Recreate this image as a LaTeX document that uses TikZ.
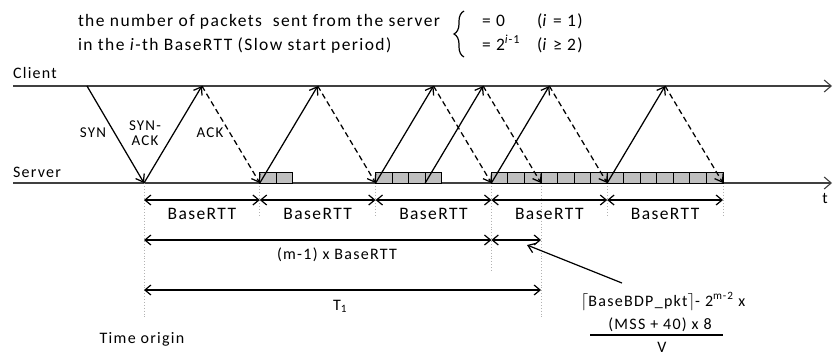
\documentclass[tikz,border=0pt]{standalone}
\usepackage{fontspec}
\setmainfont{Carlito}[LetterSpace=8]
\usetikzlibrary{arrows.meta,decorations.pathreplacing}
\begin{document}
\begin{tikzpicture}[x=1pt,y=-1pt,
  every node/.style={inner sep=0pt, outer sep=0pt, font=\fontsize{16}{19}\selectfont},
  small/.style={font=\fontsize{15}{18}\selectfont},
  head/.style={font=\fontsize{17.5}{21}\selectfont},
  rttlabel/.style={font=\fontsize{17.5}{21}\selectfont},
  timeline/.style={draw=black!75, line width=1.9pt,
    -{Straight Barb[length=7pt,width=12pt,line width=1.1pt]}},
  msg/.style={line width=1.25pt, -{Straight Barb[length=7pt,width=10pt]}},
  ackmsg/.style={msg, dash pattern=on 5.5pt off 3.5pt},
  pkt/.style={draw, fill=black!25, line width=0.9pt},
  guide/.style={draw=black!30, dotted, line width=0.9pt},
  span/.style={line width=1.2pt,
    {Straight Barb[length=6pt,width=10pt]}-{Straight Barb[length=6pt,width=10pt]}},
  pointer/.style={line width=1.2pt, -{Straight Barb[length=7pt,width=10pt]}},
]
\useasboundingbox (0,0) rectangle (833,360);

% server-side instants, one BaseRTT apart
\foreach \n/\x in {0/144,1/259.8,2/375.6,3/491.4,4/607.2,5/723} {
  \coordinate (S\n) at (\x,183);
  \coordinate (R\n) at (\x,200);
}
% client-side turning points
\coordinate (C0) at (87,86);
\coordinate (C1) at (201.9,86);
\coordinate (C2) at (317.7,86);
\coordinate (C3) at (433.5,86);
\coordinate (C4) at (483.1,86);
\coordinate (C5) at (549.3,86);
\coordinate (C6) at (665.1,86);
\coordinate (E0) at (425.2,183);
\coordinate (E1) at (541,183);

% time lines
\coordinate (cl0) at (13,86);  \coordinate (cl1) at (832,86);
\coordinate (sv0) at (13,183); \coordinate (sv1) at (832,183);
\draw[timeline] (cl0) -- (cl1);
\draw[timeline] (sv0) -- (sv1);

% dotted guides below the server line
\coordinate (g0) at (144,318);
\coordinate (g1) at (259.8,217);
\coordinate (g2) at (375.6,217);
\coordinate (g3) at (491.4,272);
\coordinate (g4) at (607.2,217);
\coordinate (g5) at (723,217);
\coordinate (gE) at (541,318);
\foreach \n in {0,...,5} \draw[guide] (S\n) -- (g\n);
\draw[guide] (E1) -- (gE);

% packets queued at the server
\foreach \i in {0,1} \draw[pkt] ({259.8+\i*16.54},172) rectangle +(16.54,11);
\foreach \i in {0,...,3} \draw[pkt] ({375.6+\i*16.54},172) rectangle +(16.54,11);
\foreach \i in {0,...,13} \draw[pkt] ({491.4+\i*16.54},172) rectangle +(16.54,11);

% handshake and data exchange
\draw[msg] (C0) -- (S0);
\draw[msg] (S0) -- (C1);
\draw[ackmsg] (C1) -- (S1);
\draw[msg] (S1) -- (C2);
\draw[ackmsg] (C2) -- (S2);
\draw[msg] (S2) -- (C3);
\draw[ackmsg] (C3) -- (S3);
\draw[msg] (E0) -- (C4);
\draw[ackmsg] (C4) -- (E1);
\draw[msg] (S3) -- (C5);
\draw[ackmsg] (C5) -- (S4);
\draw[msg] (S4) -- (C6);
\draw[ackmsg] (C6) -- (S5);

% BaseRTT spans
\foreach \a/\b in {0/1,1/2,2/3,3/4,4/5} \draw[span] (R\a) -- (R\b);
\foreach \n/\x in {1/201.9,2/317.7,3/433.5,4/549.3,5/665.1}
  \node[rttlabel, anchor=base] (rtt\n) at (\x,219) {BaseRTT};

% longer spans
\coordinate (m0) at (144,240);
\coordinate (m1) at (491.4,240);
\coordinate (m2) at (541,240);
\coordinate (t0) at (144,290);
\coordinate (t1) at (541,290);
\draw[span] (m0) -- (m1);
\draw[span] (m1) -- (m2);
\draw[span] (t0) -- (t1);
\node[anchor=base] (mlabel) at (337,259) {(m-1) x BaseRTT};
\node[anchor=base] (tlabel) at (340,310) {T\textsubscript{1}};
\node[anchor=base] (origin) at (142,343) {Time origin};

% remaining-time formula
\node[anchor=base] (f1) at (663,306)
  {$\lceil$BaseBDP\_pkt$\rceil$- 2\textsuperscript{m-2} x};
\node[anchor=base] (fnum) at (660,329) {(MSS + 40) x 8};
\coordinate (bar0) at (590,335);
\coordinate (bar1) at (723,335);
\draw[line width=1.2pt] (bar0) -- (bar1);
\node[anchor=base] (fden) at (662,352) {V};
\coordinate (ptr0) at (622,283);
\coordinate (ptr1) at (527,245);
\draw[pointer] (ptr0) -- (ptr1);

% line names
\node[anchor=base west] (client) at (13,78) {Client};
\node[anchor=base west] (server) at (13,177) {Server};
\node[anchor=base] (taxis) at (825,203) {t};

% message labels
\node[small, anchor=base] (synl) at (93,137) {SYN};
\node[small, anchor=base] (synack1) at (145,130) {SYN-};
\node[small, anchor=base] (synack2) at (145,145) {ACK};
\node[small, anchor=base] (ackl) at (210,137) {ACK};

% header: packets per BaseRTT in slow start
\node[head, anchor=base west] (h1) at (78,26) {the number of packets\ \ sent from the server};
\node[head, anchor=base west] (h2) at (78,50) {in the \textit{i}-th BaseRTT (Slow start period)};
\coordinate (br0) at (464,57);
\coordinate (br1) at (464,11);
\draw[line width=1.2pt, decorate, decoration={brace, amplitude=10pt}] (br0) -- (br1);
\node[head, anchor=base west] (c1a) at (482,26) {= 0};
\node[head, anchor=base west] (c1b) at (537,26) {(\textit{i} = 1)};
\node[head, anchor=base west] (c2a) at (482,50) {= 2\textsuperscript{\textit{i}-1}};
\node[head, anchor=base west] (c2b) at (537,50) {(\textit{i} ≥ 2)};
\end{tikzpicture}
\end{document}
